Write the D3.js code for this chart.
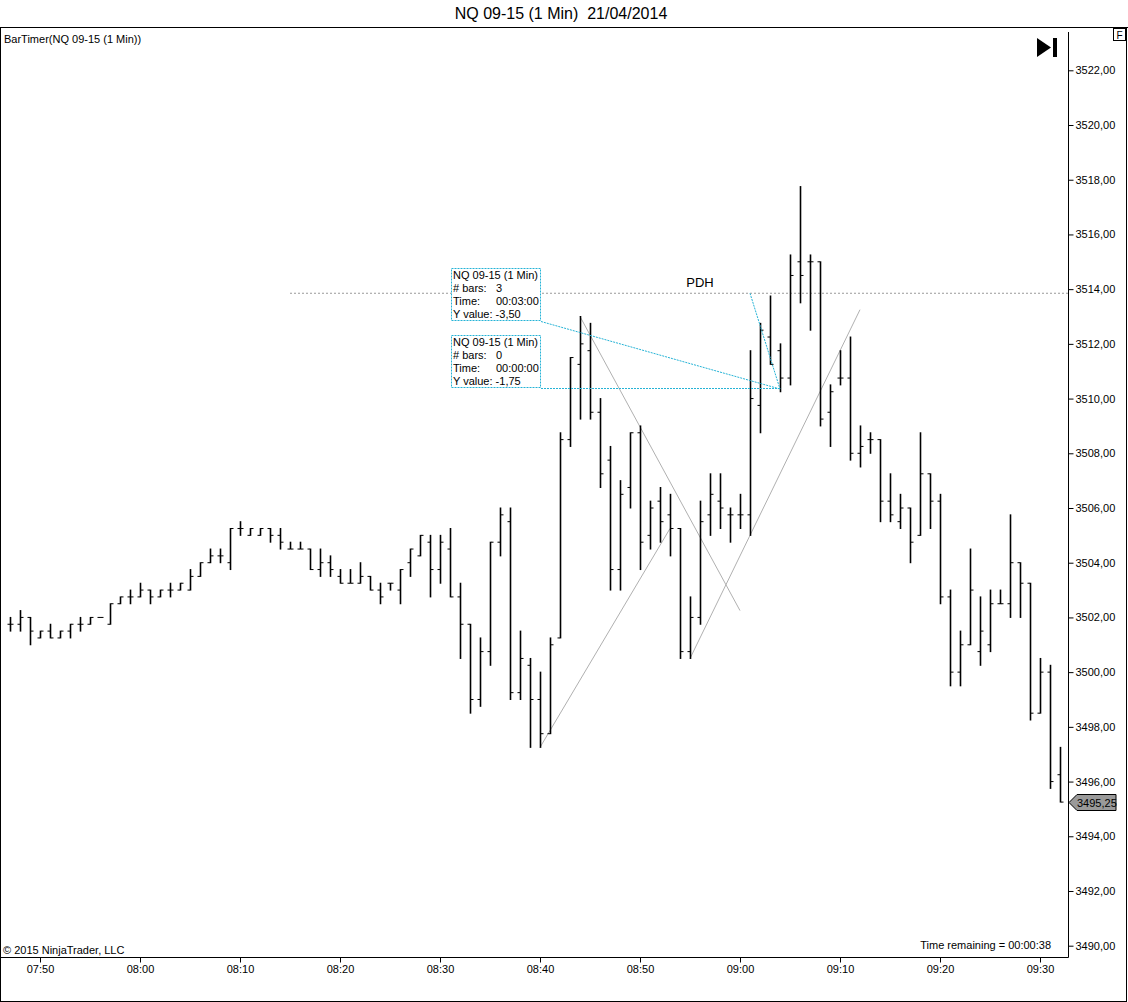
<!DOCTYPE html>
<html>
<head>
<meta charset="utf-8">
<script src="https://cdn.jsdelivr.net/npm/d3@7"></script>
<style>
body { margin: 0; background: #fff; }
text { font-family: "Liberation Sans", Arial, sans-serif; }
</style>
</head>
<body>
<div id="chart"></div>
<script>
// 1 minute bars, NQ 09-15
var times = [
  "07:47","07:48","07:49","07:50","07:51","07:52","07:53","07:54","07:55","07:56",
  "07:57","07:58","07:59","08:00","08:01","08:02","08:03","08:04","08:05","08:06",
  "08:07","08:08","08:09","08:10","08:11","08:12","08:13","08:14","08:15","08:16",
  "08:17","08:18","08:19","08:20","08:21","08:22","08:23","08:24","08:25","08:26",
  "08:27","08:28","08:29","08:30","08:31","08:32","08:33","08:34","08:35","08:36",
  "08:37","08:38","08:39","08:40","08:41","08:42","08:43","08:44","08:45","08:46",
  "08:47","08:48","08:49","08:50","08:51","08:52","08:53","08:54","08:55","08:56",
  "08:57","08:58","08:59","09:00","09:01","09:02","09:03","09:04","09:05","09:06",
  "09:07","09:08","09:09","09:10","09:11","09:12","09:13","09:14","09:15","09:16",
  "09:17","09:18","09:19","09:20","09:21","09:22","09:23","09:24","09:25","09:26",
  "09:27","09:28","09:29","09:30","09:31","09:32"
];
var opens = [
  3501.75,3501.75,3502.0,3501.25,3501.5,3501.25,3501.5,3501.75,3501.75,3502.0,
  3501.75,3502.5,3502.75,3502.75,3503.0,3502.75,3503.0,3503.0,3503.0,3503.5,
  3504.0,3504.25,3504.0,3505.25,3505.0,3505.0,3505.25,3505.0,3504.5,3504.5,
  3504.5,3503.75,3504.0,3503.5,3503.25,3503.25,3503.5,3503.0,3503.25,3503.0,
  3504.0,3504.25,3504.75,3503.75,3504.5,3502.75,3501.75,3499.0,3500.75,3504.75,
  3505.5,3499.25,3500.25,3499.0,3497.75,3501.25,3508.5,3511.25,3511.75,3509.5,
  3507.75,3503.75,3506.75,3508.75,3505.0,3506.25,3505.75,3505.25,3500.75,3502.0,
  3505.75,3506.25,3505.75,3505.75,3505.75,3509.75,3512.25,3511.75,3510.75,3515.0,
  3515.0,3515.0,3509.5,3510.75,3510.75,3508.0,3508.5,3508.5,3506.25,3505.5,
  3506.0,3505.0,3507.25,3506.25,3502.75,3500.0,3501.0,3500.75,3501.0,3502.5,
  3502.5,3504.0,3503.25,3498.5,3500.0,3496.25
];
var highs = [
  3502.0,3502.25,3502.0,3501.5,3501.75,3501.5,3501.75,3502.0,3502.0,3502.0,
  3502.5,3502.75,3503.0,3503.25,3503.0,3503.0,3503.25,3503.25,3503.75,3504.0,
  3504.5,3504.5,3505.25,3505.5,3505.25,3505.25,3505.25,3505.25,3504.75,3504.75,
  3504.5,3504.5,3504.25,3503.75,3503.75,3504.0,3503.5,3503.25,3503.25,3503.75,
  3504.5,3505.0,3505.0,3505.0,3505.25,3503.25,3501.75,3501.25,3504.75,3506.0,
  3506.0,3501.5,3500.5,3500.0,3501.25,3508.75,3511.5,3513.0,3512.75,3510.0,
  3508.25,3507.0,3508.75,3509.0,3506.25,3506.75,3506.5,3505.25,3502.75,3506.25,
  3507.25,3507.25,3506.0,3506.5,3511.75,3512.75,3513.75,3512.0,3515.25,3517.75,
  3515.25,3515.0,3510.5,3511.75,3512.25,3509.0,3508.75,3508.5,3507.25,3506.5,
  3506.0,3508.75,3507.25,3506.5,3503.0,3501.5,3504.5,3502.75,3503.0,3503.0,
  3505.75,3504.0,3503.25,3500.5,3500.25,3497.25
];
var lows = [
  3501.5,3501.5,3501.0,3501.25,3501.25,3501.25,3501.25,3501.5,3501.75,3502.0,
  3501.75,3502.5,3502.5,3502.75,3502.5,3502.75,3502.75,3503.0,3503.0,3503.5,
  3504.0,3504.0,3503.75,3505.0,3505.0,3505.0,3504.75,3504.5,3504.5,3504.5,
  3503.75,3503.5,3503.5,3503.25,3503.25,3503.25,3503.0,3502.5,3503.0,3502.5,
  3503.5,3504.25,3502.75,3503.25,3502.75,3500.5,3498.5,3498.75,3500.25,3504.25,
  3499.0,3499.0,3497.25,3497.25,3497.75,3501.25,3508.25,3509.25,3509.25,3506.75,
  3503.0,3503.0,3506.0,3503.75,3504.5,3504.75,3504.25,3500.5,3500.5,3501.75,
  3505.0,3505.25,3504.75,3505.25,3505.0,3508.75,3511.25,3510.25,3510.5,3513.5,
  3512.5,3509.0,3508.25,3510.5,3507.75,3507.5,3508.0,3505.5,3505.5,3505.25,
  3504.0,3505.0,3505.25,3502.5,3499.5,3499.5,3501.0,3500.25,3500.75,3502.5,
  3502.0,3502.0,3498.25,3498.5,3495.75,3495.25
];
var closes = [
  3501.75,3502.0,3501.5,3501.5,3501.25,3501.5,3501.75,3501.75,3502.0,3502.0,
  3502.5,3502.75,3502.75,3503.0,3502.75,3503.0,3503.0,3503.25,3503.5,3504.0,
  3504.25,3504.25,3505.25,3505.25,3505.25,3505.25,3505.0,3504.75,3504.5,3504.5,
  3503.75,3504.0,3503.75,3503.25,3503.25,3503.5,3503.0,3502.75,3503.25,3503.75,
  3504.5,3505.0,3503.75,3504.75,3502.75,3501.75,3499.0,3500.75,3504.75,3505.75,
  3499.25,3500.5,3499.0,3497.75,3501.0,3508.5,3511.5,3512.0,3509.5,3507.25,
  3503.75,3506.5,3508.75,3504.75,3506.0,3505.5,3505.25,3500.75,3502.0,3505.5,
  3506.5,3506.0,3505.75,3505.75,3510.0,3512.5,3511.25,3510.75,3514.5,3514.5,
  3515.0,3509.25,3510.25,3510.75,3508.0,3508.25,3508.5,3506.25,3505.75,3506.0,
  3504.75,3507.25,3506.25,3502.75,3500.0,3501.0,3503.0,3501.5,3502.5,3502.5,
  3504.0,3503.25,3498.5,3500.0,3496.0,3495.25
];

var yTickValues = [3490,3492,3494,3496,3498,3500,3502,3504,3506,3508,3510,3512,3514,3516,3518,3520,3522];
var xTickLabels = ["07:50","08:00","08:10","08:20","08:30","08:40","08:50","09:00","09:10","09:20","09:30"];

// drawn trend lines (gray)
var trendStart = [["08:40",3497.25],["08:44",3513.0],["08:55",3500.5]];
var trendEnd   = [["08:53",3505.25],["09:00",3502.25],["09:12",3513.25]];

// previous day high
var pdhLevel = 3513.85;
var pdhFrom = "08:15";

// ruler drawing tool
var rulerStart = ["09:01",3513.85];
var rulerEnd   = ["09:04",3510.35];
var rulerBox1 = ["NQ 09-15 (1 Min)", "# bars:", "3", "Time:", "00:03:00", "Y value: -3,50"];
var rulerBox2 = ["NQ 09-15 (1 Min)", "# bars:", "0", "Time:", "00:00:00", "Y value: -1,75"];

var lastPrice = 3495.25;

var W = 1128, H = 1002;
var plotRight = 1068, plotTop = 32, plotBottom = 957;

var parseT = d3.timeParse("%H:%M");
var fmtT = d3.timeFormat("%H:%M");
var fmtP = function(v) { return d3.format(".2f")(v).replace(".", ","); };

var bars = times.map(function(t, i) {
  return {t: parseT(t), o: opens[i], h: highs[i], l: lows[i], c: closes[i]};
});

var x = d3.scaleTime()
  .domain([parseT("07:46"), d3.timeSecond.offset(parseT("09:32"), 48)])
  .range([0, plotRight]);
var y = d3.scaleLinear()
  .domain([3490, 3522])
  .range([945.7, 70.3]);

var svg = d3.select("#chart").append("svg")
  .attr("width", W)
  .attr("height", H);

svg.append("rect").attr("width", W).attr("height", H).attr("fill", "#fff");

// title (two spaces kept)
svg.append("text")
  .attr("x", 561).attr("y", 19)
  .attr("text-anchor", "middle")
  .style("font-size", "16px")
  .style("white-space", "pre")
  .attr("xml:space", "preserve")
  .text("NQ 09-15 (1 Min)  21/04/2014");

// frame
svg.append("line").attr("x1", 0).attr("x2", W).attr("y1", 27.5).attr("y2", 27.5).attr("stroke", "#000");
svg.append("line").attr("x1", 0.5).attr("x2", 0.5).attr("y1", 27.5).attr("y2", 1001.5).attr("stroke", "#000");
svg.append("line").attr("x1", 1126.5).attr("x2", 1126.5).attr("y1", 27.5).attr("y2", 1001.5).attr("stroke", "#000");
svg.append("line").attr("x1", 0).attr("x2", 1127).attr("y1", 1001.5).attr("y2", 1001.5).attr("stroke", "#000");

svg.append("defs").append("clipPath").attr("id", "plotClip")
  .append("rect").attr("x", 1).attr("y", 28).attr("width", plotRight - 1).attr("height", plotBottom - 28);

var plot = svg.append("g").attr("clip-path", "url(#plotClip)");

// PDH line
plot.append("line")
  .attr("x1", x(parseT(pdhFrom))).attr("x2", plotRight)
  .attr("y1", y(pdhLevel)).attr("y2", y(pdhLevel))
  .attr("stroke", "#999").attr("stroke-dasharray", "2,2");
plot.append("text")
  .attr("x", 700).attr("y", y(pdhLevel) - 6)
  .attr("text-anchor", "middle")
  .style("font-size", "13px")
  .text("PDH");

// trend lines
trendStart.forEach(function(s, i) {
  var e = trendEnd[i];
  plot.append("line")
    .attr("x1", x(parseT(s[0]))).attr("y1", y(s[1]))
    .attr("x2", x(parseT(e[0]))).attr("y2", y(e[1]))
    .attr("stroke", "#b0b0b0").attr("stroke-width", 1);
});

// OHLC bars
var barG = plot.selectAll("g.bar").data(bars).enter().append("g").attr("class", "bar");
barG.append("line")
  .attr("x1", function(d) { return Math.round(x(d.t)) + 0.5; })
  .attr("x2", function(d) { return Math.round(x(d.t)) + 0.5; })
  .attr("y1", function(d) { return y(d.h) - 0.5; })
  .attr("y2", function(d) { return y(d.l) + 0.5; })
  .attr("stroke", "#000").attr("stroke-width", 1.6);
barG.append("line")
  .attr("x1", function(d) { return Math.round(x(d.t)) - 2.5; })
  .attr("x2", function(d) { return Math.round(x(d.t)); })
  .attr("y1", function(d) { return y(d.o); })
  .attr("y2", function(d) { return y(d.o); })
  .attr("stroke", "#000").attr("stroke-width", 1);
barG.append("line")
  .attr("x1", function(d) { return Math.round(x(d.t)) + 1; })
  .attr("x2", function(d) { return Math.round(x(d.t)) + 3.5; })
  .attr("y1", function(d) { return y(d.c); })
  .attr("y2", function(d) { return y(d.c); })
  .attr("stroke", "#000").attr("stroke-width", 1);

// ruler tool (cyan, dashed)
var cyan = "#25b3d6";
var rx1 = x(parseT(rulerStart[0])), ry1 = y(rulerStart[1]);
var rx2 = x(parseT(rulerEnd[0])), ry2 = y(rulerEnd[1]);
plot.append("line").attr("x1", rx1).attr("y1", ry1).attr("x2", rx2).attr("y2", ry2)
  .attr("stroke", cyan).attr("stroke-dasharray", "2,1");
plot.append("line").attr("x1", 541).attr("y1", 321.5).attr("x2", rx2).attr("y2", ry2)
  .attr("stroke", cyan).attr("stroke-dasharray", "2,1");
plot.append("line").attr("x1", 541).attr("y1", 388.5).attr("x2", rx2).attr("y2", 388.5)
  .attr("stroke", cyan).attr("stroke-dasharray", "2,1");

function drawBox(lines, top) {
  var g = plot.append("g");
  g.append("rect")
    .attr("x", 451.5).attr("y", top + 0.5).attr("width", 89).attr("height", 52)
    .attr("fill", "#fff").attr("stroke", cyan).attr("stroke-dasharray", "2,1");
  var t = g.append("g").style("font-size", "11px");
  t.append("text").attr("x", 453).attr("y", top + 11).text(lines[0]);
  t.append("text").attr("x", 453).attr("y", top + 24).text(lines[1]);
  t.append("text").attr("x", 496).attr("y", top + 24).text(lines[2]);
  t.append("text").attr("x", 453).attr("y", top + 37).text(lines[3]);
  t.append("text").attr("x", 496).attr("y", top + 37).text(lines[4]);
  t.append("text").attr("x", 453).attr("y", top + 50).text(lines[5]);
}
drawBox(rulerBox1, 268);
drawBox(rulerBox2, 335);

// indicator label
svg.append("text").attr("x", 4).attr("y", 43).style("font-size", "11px").text("BarTimer(NQ 09-15 (1 Min))");

// play-to-end icon
svg.append("path").attr("d", "M1037,38 L1051,47.5 L1037,57 Z").attr("fill", "#000");
svg.append("rect").attr("x", 1053).attr("y", 38).attr("width", 4).attr("height", 19).attr("fill", "#000");

// F box
svg.append("rect").attr("x", 1113.5).attr("y", 28.5).attr("width", 12).attr("height", 12)
  .attr("fill", "#fff").attr("stroke", "#000");
svg.append("text").attr("x", 1119.5).attr("y", 38.5).attr("text-anchor", "middle")
  .style("font-size", "10px").text("F");

// bottom texts
svg.append("text").attr("x", 3).attr("y", 954).style("font-size", "11px").text("\u00a9 2015 NinjaTrader, LLC");
svg.append("text").attr("x", 1051).attr("y", 949).attr("text-anchor", "end")
  .style("font-size", "11px").text("Time remaining = 00:00:38");

// axes
var yAxis = d3.axisRight(y).tickValues(yTickValues).tickFormat(fmtP).tickSize(5).tickPadding(2);
var yG = svg.append("g").attr("transform", "translate(" + (plotRight + 0.5) + ",0)").call(yAxis);
yG.select(".domain").remove();
yG.selectAll("text").style("font-size", "11px").style("font-family", "Liberation Sans, Arial, sans-serif").attr("fill", "#000");
svg.append("line").attr("x1", plotRight + 0.5).attr("x2", plotRight + 0.5)
  .attr("y1", plotTop).attr("y2", plotBottom + 0.5).attr("stroke", "#000");

var xAxis = d3.axisBottom(x)
  .tickValues(xTickLabels.map(parseT))
  .tickFormat(fmtT).tickSize(5).tickPadding(3);
var xG = svg.append("g").attr("transform", "translate(0," + (plotBottom + 0.5) + ")").call(xAxis);
xG.select(".domain").remove();
xG.selectAll("text").style("font-size", "11px").style("font-family", "Liberation Sans, Arial, sans-serif").attr("fill", "#000");
svg.append("line").attr("x1", 0).attr("x2", plotRight + 0.5)
  .attr("y1", plotBottom + 0.5).attr("y2", plotBottom + 0.5).attr("stroke", "#000");

// last price marker
var ly = Math.round(y(lastPrice)) + 0.5;
svg.append("path")
  .attr("d", "M1069," + ly + " L1077," + (ly - 8) + " L1116," + (ly - 8) + " L1116," + (ly + 8) + " L1077," + (ly + 8) + " Z")
  .attr("fill", "#9a9a9a").attr("stroke", "#000");
svg.append("text").attr("x", 1077).attr("y", ly + 4).style("font-size", "11px").text(fmtP(lastPrice));
</script>
</body>
</html>
